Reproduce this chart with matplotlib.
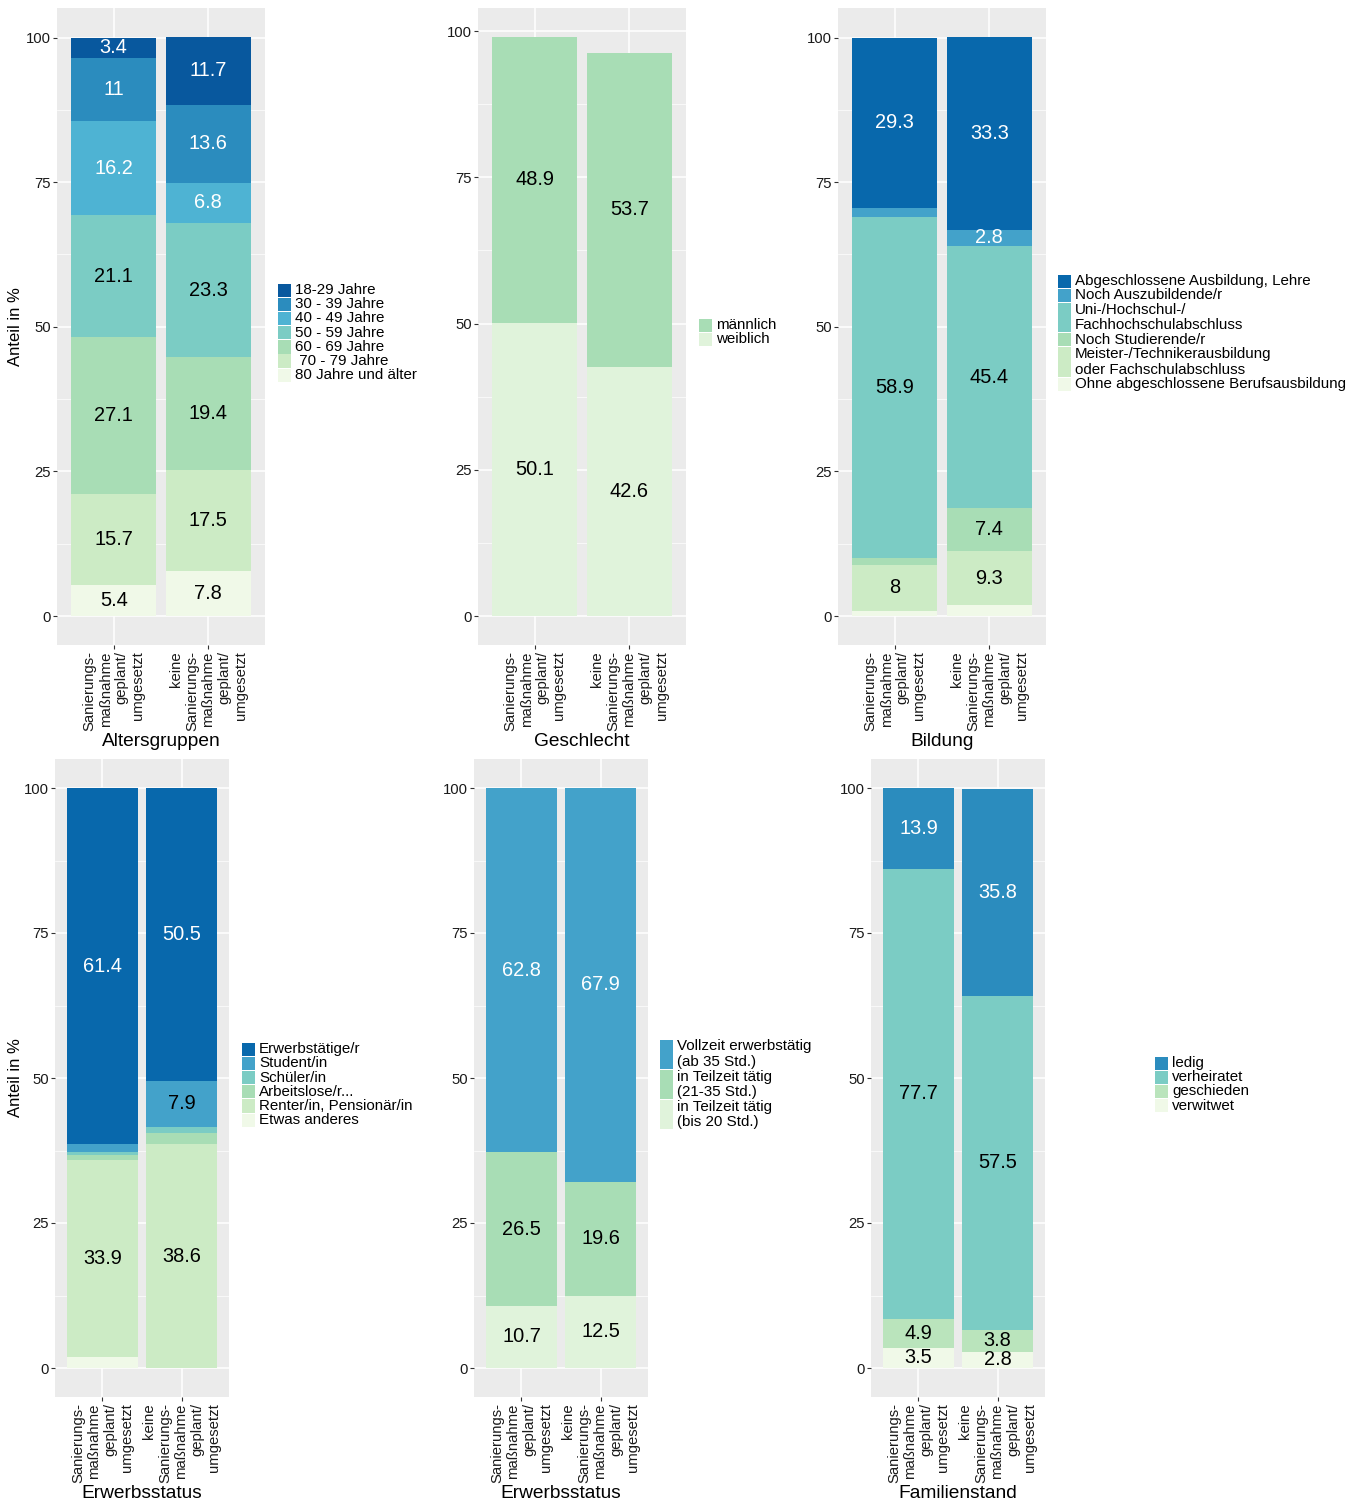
import matplotlib

matplotlib.use("Agg")
import matplotlib.pyplot as plt
from matplotlib.patches import Rectangle
from matplotlib.ticker import MultipleLocator

plt.rcParams["font.family"] = ["Liberation Sans", "DejaVu Sans"]

W, H = 1364, 1502

BAR_NAMES = [
    "Sanierungs-\nmaßnahme\ngeplant/\numgesetzt",
    "keine\nSanierungs-\nmaßnahme\ngeplant/\numgesetzt",
]

# Altersgruppen (legend order = stack order from top)
age_labels = ["18-29 Jahre", "30 - 39 Jahre", "40 - 49 Jahre", "50 - 59 Jahre",
              "60 - 69 Jahre", " 70 - 79 Jahre", "80 Jahre und älter"]
age_bar1 = [3.4, 11, 16.2, 21.1, 27.1, 15.7, 5.4]
age_bar2 = [11.7, 13.6, 6.8, 23.3, 19.4, 17.5, 7.8]
age_colors = ["#08589e", "#2b8cbe", "#4eb3d3", "#7bccc4", "#a8ddb5", "#ccebc5", "#f0f9e8"]
age_white = [True, True, True, False, False, False, False]

# Geschlecht
sex_labels = ["männlich", "weiblich"]
sex_bar1 = [48.9, 50.1]
sex_bar2 = [53.7, 42.6]
sex_colors = ["#a8ddb5", "#e0f3db"]
sex_white = [False, False]

# Bildung
edu_labels = ["Abgeschlossene Ausbildung, Lehre", "Noch Auszubildende/r",
              "Uni-/Hochschul-/\nFachhochschulabschluss", "Noch Studierende/r",
              "Meister-/Technikerausbildung\noder Fachschulabschluss",
              "Ohne abgeschlossene Berufsausbildung"]
edu_bar1 = [29.3, 1.6, 58.9, 1.2, 8.0, 0.9]
edu_bar2 = [33.3, 2.8, 45.4, 7.4, 9.3, 1.9]
edu_colors = ["#0868ac", "#43a2ca", "#7bccc4", "#a8ddb5", "#ccebc5", "#f0f9e8"]
edu_white = [True, True, False, False, False, False]

# Erwerbsstatus
job_labels = ["Erwerbstätige/r", "Student/in", "Schüler/in", "Arbeitslose/r...",
              "Renter/in, Pensionär/in", "Etwas anderes"]
job_bar1 = [61.4, 1.3, 0.5, 1.0, 33.9, 1.9]
job_bar2 = [50.5, 7.9, 1.0, 2.0, 38.6, 0.0]
job_colors = ["#0868ac", "#43a2ca", "#7bccc4", "#a8ddb5", "#ccebc5", "#f0f9e8"]
job_white = [True, False, False, False, False, False]

# Erwerbsstatus (Umfang)
hours_labels = ["Vollzeit erwerbstätig\n(ab 35 Std.)", "in Teilzeit tätig\n(21-35 Std.)",
                "in Teilzeit tätig\n(bis 20 Std.)"]
hours_bar1 = [62.8, 26.5, 10.7]
hours_bar2 = [67.9, 19.6, 12.5]
hours_colors = ["#43a2ca", "#a8ddb5", "#e0f3db"]
hours_white = [True, False, False]

# Familienstand
fam_labels = ["ledig", "verheiratet", "geschieden", "verwitwet"]
fam_bar1 = [13.9, 77.7, 4.9, 3.5]
fam_bar2 = [35.8, 57.5, 3.8, 2.8]
fam_colors = ["#2b8cbe", "#7bccc4", "#bae4bc", "#f0f9e8"]
fam_white = [True, False, False, False]


def fx(x):
    return x / W


def fy(y):
    return 1 - y / H


def draw_panel(fig, box, bars, colors, white, title, title_y, ylabel=False):
    left, right, top, bottom = box
    ax = fig.add_axes([fx(left), fy(bottom), fx(right - left), (bottom - top) / H])
    ax.set_facecolor("#ebebeb")
    for s in ax.spines.values():
        s.set_visible(False)

    xs = [1, 2]
    ymax = 0
    for x, vals in zip(xs, bars):
        base = 0
        # stack from the last category (bottom) up to the first (top)
        for i in reversed(range(len(vals))):
            v = vals[i]
            ax.bar(x, v, bottom=base, width=0.9, color=colors[i], linewidth=0, zorder=2)
            if v >= 2.5:
                ax.text(x, base + v / 2, f"{v:g}", ha="center", va="center", fontsize=14.4,
                        color="white" if white[i] else "black", zorder=3)
            base += v
        ymax = max(ymax, base)

    ax.set_xlim(0.4, 2.6)
    ax.set_ylim(-0.05 * ymax, 1.05 * ymax)
    ax.set_xticks(xs)
    ax.set_xticklabels(BAR_NAMES, rotation=90, ha="center", va="top", multialignment="right",
                       fontsize=10.7)
    ax.yaxis.set_major_locator(MultipleLocator(25))
    ax.yaxis.set_minor_locator(MultipleLocator(12.5))
    ax.tick_params(axis="both", which="major", length=3, width=0.8, color="#333333",
                   labelsize=10.7, labelcolor="#1a1a1a", pad=1.5)
    ax.tick_params(axis="y", which="minor", length=0)
    ax.grid(which="major", color="white", linewidth=1.1, zorder=0)
    ax.grid(which="minor", axis="y", color="white", linewidth=0.5, zorder=0)
    ax.set_axisbelow(True)

    cx = (left + right) / 2
    fig.text(fx(cx), fy(title_y), title, ha="center", va="center", fontsize=13.8)
    if ylabel:
        fig.text(fx(16), fy((top + bottom) / 2), "Anteil in %", rotation=90,
                 ha="center", va="center", fontsize=12)
    return ax


def draw_legend(fig, x, top, labels, colors):
    row = 14.2
    extra = 16.0
    y = top
    for lab, col in zip(labels, colors):
        n = lab.count("\n") + 1
        h = row + (n - 1) * extra
        fig.patches.append(Rectangle((fx(x), fy(y + h - 0.5)), 13 / W, (h - 1) / H,
                                     transform=fig.transFigure, facecolor=col,
                                     edgecolor="none"))
        fig.text(fx(x + 17), fy(y + h / 2), lab, ha="left", va="center", fontsize=10.9,
                 linespacing=1.12)
        y += h


fig = plt.figure(figsize=(W / 100, H / 100), dpi=100)

draw_panel(fig, (57, 265, 8, 645), [age_bar1, age_bar2], age_colors, age_white,
           "Altersgruppen", 741, ylabel=True)
draw_legend(fig, 278, 283, age_labels, age_colors)

draw_panel(fig, (478, 686, 8, 645), [sex_bar1, sex_bar2], sex_colors, sex_white,
           "Geschlecht", 741)
draw_legend(fig, 699, 318, sex_labels, sex_colors)

draw_panel(fig, (838, 1046, 8, 645), [edu_bar1, edu_bar2], edu_colors, edu_white,
           "Bildung", 741)
draw_legend(fig, 1058, 274, edu_labels, edu_colors)

draw_panel(fig, (55, 229, 759, 1397), [job_bar1, job_bar2], job_colors, job_white,
           "Erwerbsstatus", 1493, ylabel=True)
draw_legend(fig, 242, 1042, job_labels, job_colors)

draw_panel(fig, (474, 648, 759, 1397), [hours_bar1, hours_bar2], hours_colors, hours_white,
           "Erwerbsstatus", 1493)
draw_legend(fig, 660, 1039, hours_labels, hours_colors)

draw_panel(fig, (871, 1045, 759, 1397), [fam_bar1, fam_bar2], fam_colors, fam_white,
           "Familienstand", 1493)
draw_legend(fig, 1155, 1056, fam_labels, fam_colors)

fig.savefig("out.png", dpi=100)
